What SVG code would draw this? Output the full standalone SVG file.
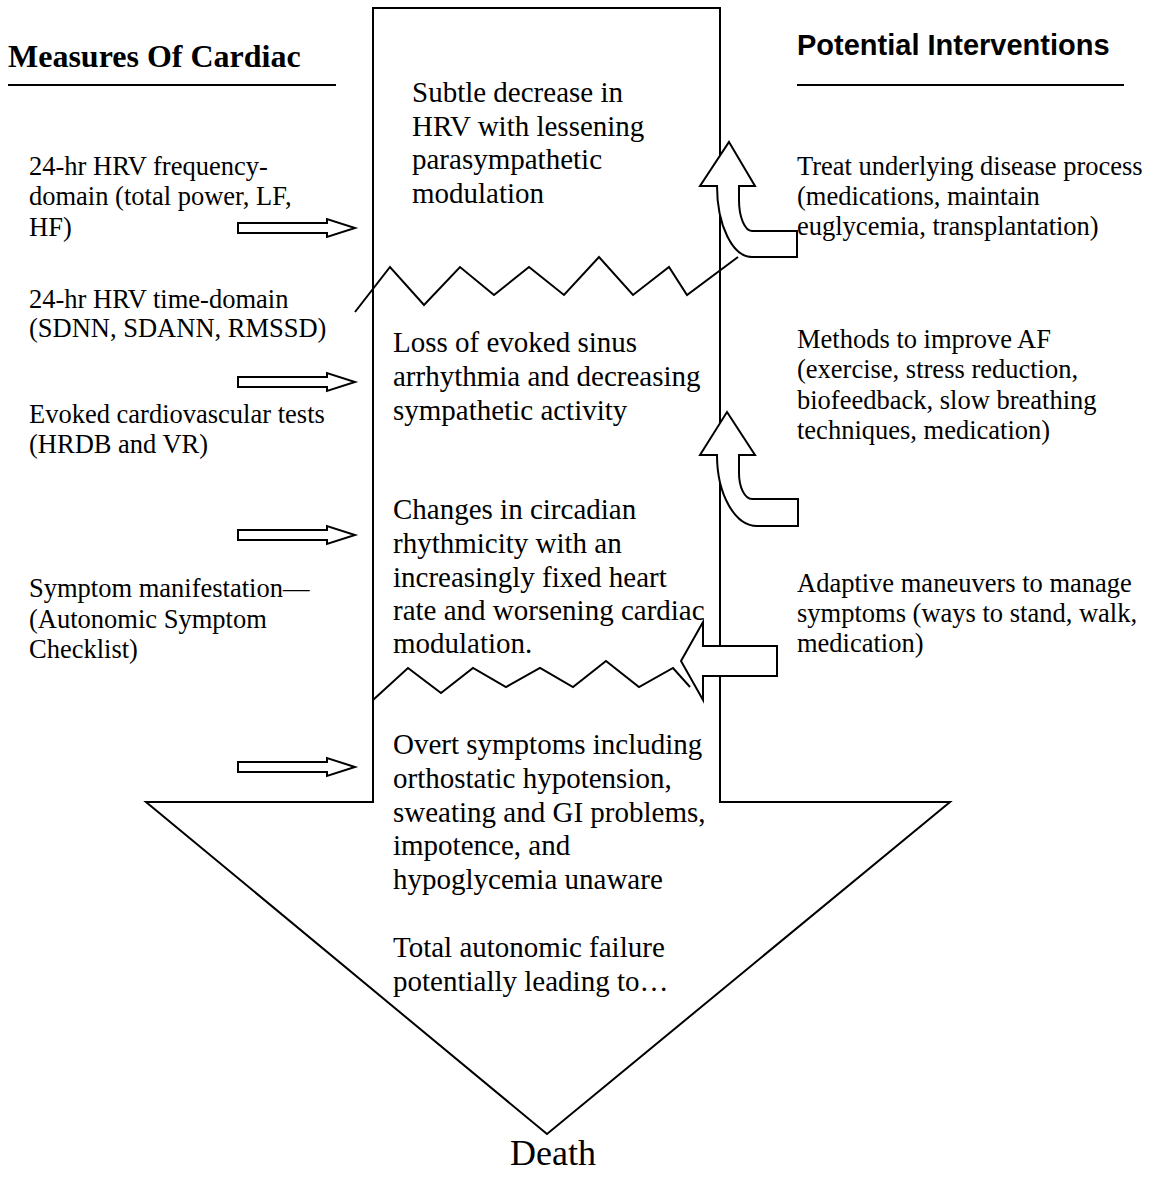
<svg xmlns="http://www.w3.org/2000/svg" width="1156" height="1190" viewBox="0 0 1156 1190">
<style>
.t{font-family:"Liberation Serif","Times New Roman",serif;font-size:26.5px;fill:#000}
.c{font-family:"Liberation Serif","Times New Roman",serif;font-size:29px;fill:#000}
.h1{font-family:"Liberation Serif","Times New Roman",serif;font-weight:bold;font-size:32px;fill:#000}
.h2{font-family:"Liberation Sans",Arial,sans-serif;font-weight:bold;font-size:29px;fill:#000}
.ln{fill:none;stroke:#000;stroke-width:2}
.blk{fill:#fff;stroke:#000;stroke-width:2;stroke-linejoin:miter}
</style>
<defs>
<path id="sa" d="M238,-5 L327,-5 L327,-9 L355,0 L327,9 L327,5 L238,5 Z"/>
</defs>
<rect width="1156" height="1190" fill="#fff"/>

<g id="main-arrow">
<path class="blk" d="M373,8 L720,8 L720,802 L950,802 L547,1134 L146,802 L373,802 Z"/>
</g>

<g id="heading-left">
<text class="h1" x="8" y="67">Measures Of Cardiac</text>
<line class="ln" x1="8" y1="85" x2="336" y2="85"/>
</g>
<g id="heading-right">
<text class="h2" x="797" y="55">Potential Interventions</text>
<line class="ln" x1="797" y1="85" x2="1124" y2="85"/>
</g>

<g id="stage1"><text class="c"><tspan x="412" y="102">Subtle decrease in</tspan><tspan x="412" y="136">HRV with lessening</tspan><tspan x="412" y="169">parasympathetic</tspan><tspan x="412" y="203">modulation</tspan></text></g>
<g id="stage2"><text class="c"><tspan x="393" y="352">Loss of evoked sinus</tspan><tspan x="393" y="386">arrhythmia and decreasing</tspan><tspan x="393" y="420">sympathetic activity</tspan></text></g>
<g id="stage3"><text class="c"><tspan x="393" y="519">Changes in circadian</tspan><tspan x="393" y="553">rhythmicity with an</tspan><tspan x="393" y="587">increasingly fixed heart</tspan><tspan x="393" y="620">rate and worsening cardiac</tspan><tspan x="393" y="653">modulation.</tspan></text></g>
<g id="stage4"><text class="c"><tspan x="393" y="754">Overt symptoms including</tspan><tspan x="393" y="788">orthostatic hypotension,</tspan><tspan x="393" y="822">sweating and GI problems,</tspan><tspan x="393" y="855">impotence, and</tspan><tspan x="393" y="889">hypoglycemia unaware</tspan></text></g>
<g id="stage5"><text class="c"><tspan x="393" y="957">Total autonomic failure</tspan><tspan x="393" y="991">potentially leading to…</tspan></text></g>
<g id="death"><text class="c" style="font-size:36px" x="553" y="1165" text-anchor="middle">Death</text></g>

<g id="measure1"><text class="t"><tspan x="29" y="175">24-hr HRV frequency-</tspan><tspan x="29" y="205">domain (total power, LF,</tspan><tspan x="29" y="236">HF)</tspan></text></g>
<g id="measure2"><text class="t"><tspan x="29" y="308">24-hr HRV time-domain</tspan><tspan x="29" y="337">(SDNN, SDANN, RMSSD)</tspan></text></g>
<g id="measure3"><text class="t"><tspan x="29" y="423">Evoked cardiovascular tests</tspan><tspan x="29" y="453">(HRDB and VR)</tspan></text></g>
<g id="measure4"><text class="t"><tspan x="29" y="597">Symptom manifestation—</tspan><tspan x="29" y="628">(Autonomic Symptom</tspan><tspan x="29" y="658">Checklist)</tspan></text></g>

<g id="intervention1"><text class="t"><tspan x="797" y="175">Treat underlying disease process</tspan><tspan x="797" y="205">(medications, maintain</tspan><tspan x="797" y="235">euglycemia, transplantation)</tspan></text></g>
<g id="intervention2"><text class="t"><tspan x="797" y="348">Methods to improve AF</tspan><tspan x="797" y="378">(exercise, stress reduction,</tspan><tspan x="797" y="409">biofeedback, slow breathing</tspan><tspan x="797" y="439">techniques, medication)</tspan></text></g>
<g id="intervention3"><text class="t"><tspan x="797" y="592">Adaptive maneuvers to manage</tspan><tspan x="797" y="622">symptoms (ways to stand, walk,</tspan><tspan x="797" y="652">medication)</tspan></text></g>

<g id="connectors">
<use href="#sa" class="blk" y="228"/>
<use href="#sa" class="blk" y="382"/>
<use href="#sa" class="blk" y="535"/>
<use href="#sa" class="blk" y="767"/>
<path class="blk" d="M729,142 L755,186 L739,186 L739,200 A13,31 0 0 0 752,231 L797,231 L797,257 L752,257 A35,71 0 0 1 717,186 L700,186 Z"/>
<path class="blk" d="M727,412 L755,455 L739,455 L739,473 A13,26 0 0 0 752,499 L798,499 L798,526 L757,526 A40,71 0 0 1 717,455 L700,455 Z"/>
<path class="ln" d="M355,312 L390,267 L424,305 L460,267 L494,295 L529,267 L564,295 L599,257 L633,295 L669,267 L687,295 L738,257"/>
<path class="blk" d="M681,661 L703,622 L703,646 L777,646 L777,676 L703,676 L703,700 Z"/>
<path class="ln" d="M373,700 L408,668 L441,693 L473,668 L506,687 L540,668 L573,687 L606,661 L639,687 L673,668 L690,687"/>
</g>
</svg>
